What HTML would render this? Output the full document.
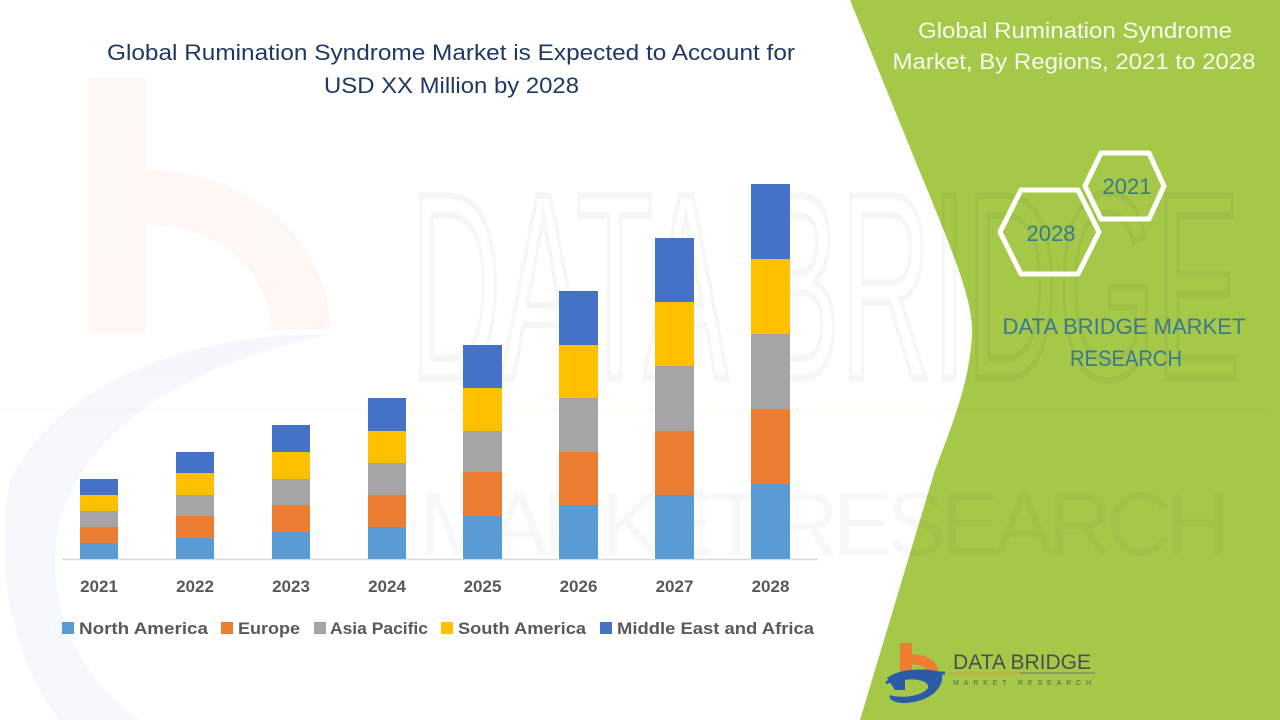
<!DOCTYPE html>
<html>
<head>
<meta charset="utf-8">
<style>
html,body{margin:0;padding:0;background:#fff;}
svg{display:block;}
</style>
</head>
<body>
<svg width="1280" height="720" viewBox="0 0 1280 720" xmlns="http://www.w3.org/2000/svg">
  <rect x="0" y="0" width="1280" height="720" fill="#ffffff"/>

  <!-- faint watermark logo on left -->
  <g opacity="0.05">
    <rect x="88" y="78" width="58" height="255" fill="#ED7D31"/>
    <path d="M146,170 C250,170 330,240 330,330 L270,330 C270,270 220,225 146,225 Z" fill="#ED7D31"/>
    <path d="M10,480 C60,380 200,330 330,335 C200,360 90,420 60,520 C40,600 80,680 140,720 L60,720 C10,660 -5,560 10,480 Z" fill="#4472C4"/>
  </g>

  <!-- green panel -->
  <path d="M850,0 L915,160 C950,245 974,300 972,335 C969,385 952,425 935,470 L860,720 L1280,720 L1280,0 Z" fill="#A5C849"/>

  <!-- faint watermark text -->
  <g opacity="0.03" font-family="Liberation Sans, sans-serif" fill="none" stroke="#000" stroke-width="7">
    <text x="410" y="378" font-size="265" textLength="830" lengthAdjust="spacingAndGlyphs">DATA BRIDGE</text>
  </g>
  <g opacity="0.025" font-family="Liberation Sans, sans-serif" fill="#000">
    <text x="420" y="555" font-size="90" textLength="810" lengthAdjust="spacing">MARKET RESEARCH</text>
    <rect x="0" y="408" width="1280" height="4" fill="#ED7D31"/>
  </g>

  <!-- main title -->
  <g font-family="Liberation Sans, sans-serif" font-size="22" fill="#1F3864">
    <text x="107" y="60" textLength="688" lengthAdjust="spacingAndGlyphs">Global Rumination Syndrome Market is Expected to Account for</text>
    <text x="324" y="93" textLength="255" lengthAdjust="spacingAndGlyphs">USD XX Million by 2028</text>
  </g>

  <!-- axis -->
  <line x1="62" y1="559.5" x2="818" y2="559.5" stroke="#D9D9D9" stroke-width="1.5"/>

  <!-- bars -->
  <g>
    <rect x="80" y="543" width="38" height="16" fill="#5B9BD5"/>
    <rect x="80" y="527" width="38" height="16" fill="#ED7D31"/>
    <rect x="80" y="511" width="38" height="16" fill="#A5A5A5"/>
    <rect x="80" y="495" width="38" height="16" fill="#FFC000"/>
    <rect x="80" y="479" width="38" height="16" fill="#4472C4"/>

    <rect x="176" y="538" width="38" height="21" fill="#5B9BD5"/>
    <rect x="176" y="516" width="38" height="22" fill="#ED7D31"/>
    <rect x="176" y="495" width="38" height="21" fill="#A5A5A5"/>
    <rect x="176" y="473" width="38" height="22" fill="#FFC000"/>
    <rect x="176" y="452" width="38" height="21" fill="#4472C4"/>

    <rect x="272" y="532" width="38" height="27" fill="#5B9BD5"/>
    <rect x="272" y="505" width="38" height="27" fill="#ED7D31"/>
    <rect x="272" y="479" width="38" height="26" fill="#A5A5A5"/>
    <rect x="272" y="452" width="38" height="27" fill="#FFC000"/>
    <rect x="272" y="425" width="38" height="27" fill="#4472C4"/>

    <rect x="368" y="527" width="38" height="32" fill="#5B9BD5"/>
    <rect x="368" y="495" width="38" height="32" fill="#ED7D31"/>
    <rect x="368" y="463" width="38" height="32" fill="#A5A5A5"/>
    <rect x="368" y="431" width="38" height="32" fill="#FFC000"/>
    <rect x="368" y="398" width="38" height="33" fill="#4472C4"/>

    <rect x="463" y="516" width="39" height="43" fill="#5B9BD5"/>
    <rect x="463" y="472" width="39" height="44" fill="#ED7D31"/>
    <rect x="463" y="431" width="39" height="41" fill="#A5A5A5"/>
    <rect x="463" y="388" width="39" height="43" fill="#FFC000"/>
    <rect x="463" y="345" width="39" height="43" fill="#4472C4"/>

    <rect x="559" y="505" width="39" height="54" fill="#5B9BD5"/>
    <rect x="559" y="452" width="39" height="53" fill="#ED7D31"/>
    <rect x="559" y="398" width="39" height="54" fill="#A5A5A5"/>
    <rect x="559" y="345" width="39" height="53" fill="#FFC000"/>
    <rect x="559" y="291" width="39" height="54" fill="#4472C4"/>

    <rect x="655" y="495" width="39" height="64" fill="#5B9BD5"/>
    <rect x="655" y="431" width="39" height="64" fill="#ED7D31"/>
    <rect x="655" y="366" width="39" height="65" fill="#A5A5A5"/>
    <rect x="655" y="302" width="39" height="64" fill="#FFC000"/>
    <rect x="655" y="238" width="39" height="64" fill="#4472C4"/>

    <rect x="751" y="484" width="39" height="75" fill="#5B9BD5"/>
    <rect x="751" y="409" width="39" height="75" fill="#ED7D31"/>
    <rect x="751" y="334" width="39" height="75" fill="#A5A5A5"/>
    <rect x="751" y="259" width="39" height="75" fill="#FFC000"/>
    <rect x="751" y="184" width="39" height="75" fill="#4472C4"/>
  </g>

  <!-- x labels -->
  <g font-family="Liberation Sans, sans-serif" font-size="17" font-weight="bold" fill="#595959" text-anchor="middle">
    <text x="99" y="592">2021</text>
    <text x="195" y="592">2022</text>
    <text x="291" y="592">2023</text>
    <text x="387" y="592">2024</text>
    <text x="482.5" y="592">2025</text>
    <text x="578.5" y="592">2026</text>
    <text x="674.5" y="592">2027</text>
    <text x="770.5" y="592">2028</text>
  </g>

  <!-- legend -->
  <g font-family="Liberation Sans, sans-serif" font-size="17" font-weight="bold" fill="#595959">
    <rect x="62" y="622" width="12" height="12" fill="#5B9BD5"/>
    <text x="79" y="634" textLength="129" lengthAdjust="spacingAndGlyphs">North America</text>
    <rect x="221" y="622" width="12" height="12" fill="#ED7D31"/>
    <text x="238" y="634" textLength="62" lengthAdjust="spacingAndGlyphs">Europe</text>
    <rect x="314" y="622" width="12" height="12" fill="#A5A5A5"/>
    <text x="330" y="634" textLength="98" lengthAdjust="spacingAndGlyphs">Asia Pacific</text>
    <rect x="441" y="622" width="12" height="12" fill="#FFC000"/>
    <text x="458" y="634" textLength="128" lengthAdjust="spacingAndGlyphs">South America</text>
    <rect x="600" y="622" width="12" height="12" fill="#4472C4"/>
    <text x="617" y="634" textLength="197" lengthAdjust="spacingAndGlyphs">Middle East and Africa</text>
  </g>

  <!-- right panel title -->
  <g font-family="Liberation Sans, sans-serif" font-size="22" fill="#F7FAF0" text-anchor="middle">
    <text x="1075" y="38" textLength="314" lengthAdjust="spacingAndGlyphs">Global Rumination Syndrome</text>
    <text x="1074" y="69" textLength="363" lengthAdjust="spacingAndGlyphs">Market, By Regions, 2021 to 2028</text>
  </g>

  <!-- hexagons -->
  <g fill="none" stroke="#ffffff" stroke-width="5" stroke-linejoin="round">
    <polygon points="1085,186 1101,153 1149,153 1164,186 1149,219 1101,219"/>
    <polygon points="1000,232 1021,190 1078,190 1099,232 1078,274 1021,274"/>
  </g>
  <g font-family="Liberation Sans, sans-serif" font-size="22" fill="#3A7A8C" text-anchor="middle">
    <text x="1127" y="194">2021</text>
    <text x="1051" y="241">2028</text>
  </g>

  <!-- DATA BRIDGE MARKET RESEARCH -->
  <g font-family="Liberation Sans, sans-serif" font-size="22" fill="#3A7A8C" text-anchor="middle">
    <text x="1124" y="334" textLength="243" lengthAdjust="spacingAndGlyphs">DATA BRIDGE MARKET</text>
    <text x="1126" y="366" textLength="112" lengthAdjust="spacingAndGlyphs">RESEARCH</text>
  </g>

  <!-- bottom logo -->
  <g>
    <rect x="900" y="643" width="12" height="30" fill="#ED7D31"/>
    <path d="M900,655 C925,652 940,660 938,675 L927,675 C928,666 918,663 900,665 Z" fill="#ED7D31"/>
    <path d="M887,678 C900,668 925,668 942,672 C945,688 930,702 905,703 C895,703 888,700 890,695 C898,698 920,698 928,688 C930,681 915,678 905,680 L905,690 L895,690 Z" fill="#2B5AA8"/>
    <path d="M886,683 C900,675 925,673 945,673" fill="none" stroke="#2B5AA8" stroke-width="3"/>
  </g>
  <g font-family="Liberation Sans, sans-serif" fill="#4A4F4A">
    <text x="953" y="669" font-size="21" textLength="138" lengthAdjust="spacingAndGlyphs">DATA BRIDGE</text>
    <line x1="950" y1="673" x2="1020" y2="673" stroke="#D8A040" stroke-width="1"/>
    <line x1="1020" y1="673" x2="1095" y2="673" stroke="#6A7A6A" stroke-width="1"/>
    <text x="953" y="685" font-size="7" textLength="138" lengthAdjust="spacing" fill="#5A5F5A">MARKET  RESEARCH</text>
  </g>
</svg>
</body>
</html>
